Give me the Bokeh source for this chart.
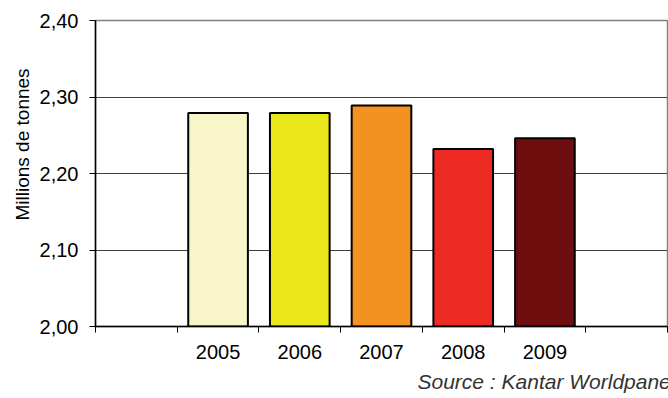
from bokeh.plotting import figure
from bokeh.models import Range1d, FixedTicker, CustomJSTickFormatter, Title
from bokeh.embed import file_html
from bokeh.resources import INLINE

years = [2005, 2006, 2007, 2008, 2009]
values = [2.279, 2.279, 2.289, 2.232, 2.246]
colors = ["#F8F6C8", "#EAE81A", "#F39220", "#EE2A24", "#6E0E0E"]
y_ticks = [2.0, 2.1, 2.2, 2.3, 2.4]
grid_ticks = [2.1, 2.2, 2.3]
cat_bounds = [2003.5, 2004.5, 2005.5, 2006.5, 2007.5, 2008.5, 2009.5, 2010.5]
y_label = "Millions de tonnes"
source_text = "Source : Kantar Worldpanel"

FONT = "Liberation Sans"

p = figure(width=668, height=398, output_backend="svg", toolbar_location=None,
           x_range=Range1d(2003.5, 2010.5), y_range=Range1d(2.0, 2.4),
           min_border_left=95, min_border_right=1, min_border_top=20, min_border_bottom=72)
p.background_fill_color = "white"
p.border_fill_color = "white"
p.outline_line_color = "#808080"
p.outline_line_width = 1.5

p.vbar(x=years, top=values, bottom=2.0, width=0.73, fill_color=colors,
       line_color="black", line_width=2)

# x axis
xa = p.xaxis[0]
xa.ticker = FixedTicker(ticks=years, minor_ticks=cat_bounds)
xa.major_tick_out = 0
xa.major_tick_in = 0
xa.minor_tick_out = 6
xa.minor_tick_in = 0
xa.minor_tick_line_color = "black"
xa.axis_line_color = "black"
xa.axis_line_width = 1.5
xa.major_label_text_font = FONT
xa.major_label_text_font_size = "20px"
xa.major_label_text_color = "black"
xa.major_label_standoff = 12

# y axis
ya = p.yaxis[0]
ya.ticker = FixedTicker(ticks=y_ticks)
ya.formatter = CustomJSTickFormatter(code="return tick.toFixed(2).replace('.', ',');")
ya.major_tick_out = 6
ya.major_tick_in = 0
ya.minor_tick_out = 0
ya.minor_tick_in = 0
ya.axis_line_color = "black"
ya.axis_line_width = 1.5
ya.major_tick_line_color = "black"
ya.major_label_text_font = FONT
ya.major_label_text_font_size = "20px"
ya.major_label_text_color = "black"
ya.major_label_standoff = 11

p.xgrid.visible = False
p.ygrid.ticker = FixedTicker(ticks=grid_ticks)
p.ygrid.grid_line_color = "#404040"
p.ygrid.grid_line_width = 1

p.add_layout(Title(text=y_label, align="left", offset=106, standoff=8,
                   text_font=FONT, text_font_size="19px", text_font_style="normal",
                   text_color="black"), "left")
p.add_layout(Title(text=source_text, align="left", offset=322, standoff=12,
                   text_font=FONT, text_font_size="21px", text_font_style="italic",
                   text_color="#333333"), "below")

open("out.html", "w").write(file_html(p, INLINE))
